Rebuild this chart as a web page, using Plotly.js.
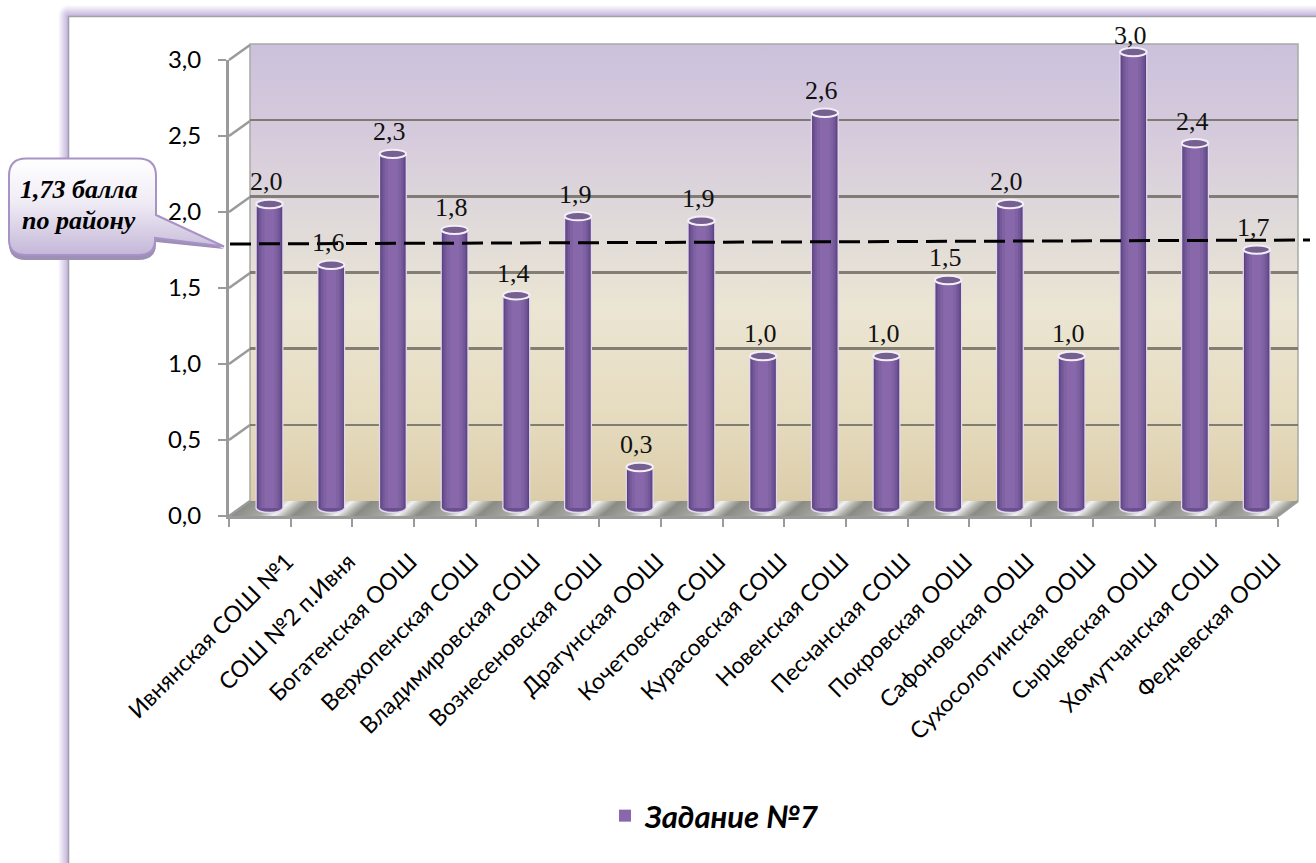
<!DOCTYPE html>
<html><head><meta charset="utf-8">
<script src="https://cdn.plot.ly/plotly-3.0.1.min.js"></script>
<style>html,body{margin:0;padding:0;background:#fff}#c{width:1316px;height:863px}</style>
</head><body><div id="c"></div>
<script>
const schools=["Ивнянская СОШ №1","СОШ №2 п.Ивня","Богатенская ООШ","Верхопенская СОШ","Владимировская СОШ","Вознесеновская СОШ","Драгунская ООШ","Кочетовская СОШ","Курасовская СОШ","Новенская СОШ","Песчанская СОШ","Покровская ООШ","Сафоновская ООШ","Сухосолотинская ООШ","Сырцевская ООШ","Хомутчанская СОШ","Федчевская ООШ"];
const values=[2.0,1.6,2.33,1.83,1.4,1.92,0.27,1.89,1.0,2.6,1.0,1.5,2.0,1.0,3.0,2.4,1.7];
const yTicks=[0,0.5,1,1.5,2,2.5,3];
const seriesName="Задание №7";
const districtMean=[1.737,1.763];
const calloutLines=["1,73 балла","по району"];

const W=1316,H=863;
const px=x=>x/W, py=y=>1-y/H;
const dom=(a,b)=>[a/W,b/W], vdom=(top,bot)=>[1-bot/H,1-top/H];
const SLOT=61.7, UNIT=152;
const BAR0X=269.5, BAR0Y=508;

/* cylinder shading: nested bars, widths in px */
const bands=[[28,"#e3d9ee"],[25.5,"#5b4380"],[23.5,"#684e8e"],[20.5,"#745899"],[16,"#7f62a2"],[10,"#8868aa"]];
const rng=[-0.5,16.5];
const traces=[];
traces.push({type:"scatter",mode:"none",x:schools,y:values,xaxis:"x",yaxis:"y",showlegend:false,hoverinfo:"skip"});
bands.forEach((b,i)=>traces.push({type:"bar",x:schools,y:values,xaxis:"x2",yaxis:"y2",
  width:schools.map(()=>b[0]/SLOT),marker:{color:b[1],line:{width:0}},
  name:seriesName,showlegend:i===bands.length-1,hoverinfo:"skip"}));
traces.push({type:"scatter",mode:"none",x:schools,y:values,xaxis:"x3",yaxis:"y3",showlegend:false,hoverinfo:"skip"});

const shapes=[];
const hw=26.5/SLOT/2, capH=4.2/UNIT;
values.forEach((v,i)=>{
  shapes.push({type:"circle",layer:"below",xref:"x2",yref:"y2",x0:i-hw,x1:i+hw,y0:-capH*1.1,y1:capH*1.1,fillcolor:"#6a5090",line:{color:"#e3d9ee",width:1.5}});
  shapes.push({type:"circle",xref:"x2",yref:"y2",x0:i-hw,x1:i+hw,y0:v-capH,y1:v+capH,fillcolor:"#75608f",line:{color:"#f3eef8",width:2}});
});
/* diagonal tick connectors from front axis to back wall */
yTicks.forEach(t=>{
  const y=60+(3-t)*UNIT;
  shapes.push({type:"line",layer:"below",xref:"paper",yref:"paper",x0:px(229),x1:px(250),y0:py(y),y1:py(y-15),line:{color:"#9a9a9a",width:2.5}});
});
shapes.push({type:"line",xref:"paper",yref:"paper",x0:px(230),x1:px(1310),
  y0:py(BAR0Y-districtMean[0]*UNIT),y1:py(BAR0Y-districtMean[1]*UNIT),line:{color:"#000",width:3,dash:"21px,8px"}});

const annotations=values.map((v,i)=>({xref:"x2",yref:"y2",x:i,y:v,text:v.toFixed(1).replace(".",","),showarrow:false,
  yshift:v>=3?16:22,xshift:-3,font:{family:"Liberation Serif",size:26,color:"#111"}}));
calloutLines.forEach((t,i)=>annotations.push({xref:"paper",yref:"paper",xanchor:"center",yanchor:"middle",x:px(79),y:py(189+i*31),text:t,showarrow:false,
  font:{family:"Liberation Serif",size:26,color:"#000",weight:700,style:"italic"}}));

const bgSvg=`<svg xmlns="http://www.w3.org/2000/svg" width="${W}" height="${H}" viewBox="0 0 ${W} ${H}">
<defs>
<linearGradient id="gl" x1="0" x2="1" y1="0" y2="0"><stop offset="0" stop-color="#fff"/><stop offset="1" stop-color="#c4b4dc"/></linearGradient>
<linearGradient id="gt" x1="0" x2="0" y1="0" y2="1"><stop offset="0" stop-color="#fff"/><stop offset="1" stop-color="#c4b4dc"/></linearGradient>
<radialGradient id="gc" cx="1" cy="1" r="1"><stop offset="0" stop-color="#c4b4dc"/><stop offset="1" stop-color="#fff"/></radialGradient>
<linearGradient id="wall" x1="0" x2="0" y1="0" y2="1">
<stop offset="0" stop-color="#cbc1dc"/><stop offset="0.2" stop-color="#d6cbdc"/><stop offset="0.38" stop-color="#dfd9da"/><stop offset="0.58" stop-color="#ebe5d3"/><stop offset="0.8" stop-color="#e6dcc0"/><stop offset="1" stop-color="#dccdaa"/></linearGradient>
<linearGradient id="floor" gradientUnits="userSpaceOnUse" x1="229" y1="0" x2="290.7" y2="0" spreadMethod="repeat" gradientTransform="skewX(-50)">
<stop offset="0" stop-color="#8b8b85"/><stop offset="0.45" stop-color="#a8a8a4"/><stop offset="0.68" stop-color="#f2f2f2"/><stop offset="0.85" stop-color="#b5b5b0"/><stop offset="1" stop-color="#8b8b85"/></linearGradient>
</defs>
<rect x="58" y="16" width="10" height="${H-16}" fill="url(#gl)"/>
<rect x="68" y="5" width="${W-68}" height="11" fill="url(#gt)"/>
<rect x="58" y="5" width="10" height="11" fill="url(#gc)"/>
<path d="M68.5 ${H}V16.5H${W}" fill="none" stroke="#a3a0a8" stroke-width="1.6"/>
<rect x="250" y="44" width="1048" height="457" fill="url(#wall)"/>
<path d="M250 501V44H1298V501" fill="none" stroke="#a9a9a5" stroke-width="1.5"/>
<path d="M229 516L250 501H1298L1278 516Z" fill="url(#floor)"/>
<path d="M1278 516L1298 501" stroke="#9a9a9a" stroke-width="2.5"/>
</svg>`;
const calloutSvg=`<svg xmlns="http://www.w3.org/2000/svg" width="${W}" height="${H}" viewBox="0 0 ${W} ${H}">
<defs><linearGradient id="cb" gradientUnits="userSpaceOnUse" x1="0" x2="0" y1="158" y2="256"><stop offset="0" stop-color="#fff"/><stop offset="0.45" stop-color="#f0ecf5"/><stop offset="1" stop-color="#c3b6d8"/></linearGradient></defs>
<path d="M26 161H138Q156 161 156 179V218L224 249L156 242V244Q156 260 138 260H26Q9 260 9 244V179Q9 161 26 161Z" fill="#9d8fb5"/>
<path d="M26 158.5H138Q156 158.5 156 176V215L224 246.5L155 238V240Q155 255 138 255H26Q9 255 9 240V176Q9 158.5 26 158.5Z" fill="url(#cb)" stroke="#a893c6" stroke-width="2"/>
</svg>`;
const uri=s=>"data:image/svg+xml;charset=utf-8,"+encodeURIComponent(s);

const wallAxis={showline:false,zeroline:false,showticklabels:false,ticks:""};
const F="Lato, Carlito, 'Open Sans', sans-serif";
const layout={
  width:W,height:H,margin:{l:0,r:0,t:0,b:0,pad:0},paper_bgcolor:"rgba(0,0,0,0)",plot_bgcolor:"rgba(0,0,0,0)",
  separators:", ",barmode:"overlay",hovermode:false,
  images:[
    {source:uri(bgSvg),xref:"paper",yref:"paper",x:0,y:1,sizex:1,sizey:1,sizing:"stretch",xanchor:"left",yanchor:"top",layer:"below"},
    {source:uri(calloutSvg),xref:"paper",yref:"paper",x:0,y:1,sizex:1,sizey:1,sizing:"stretch",xanchor:"left",yanchor:"top",layer:"above"}
  ],
  /* back wall: grid */
  xaxis:Object.assign({},wallAxis,{domain:dom(250,1298),anchor:"y",type:"category",categoryarray:schools,range:rng,showgrid:false}),
  yaxis:Object.assign({},wallAxis,{domain:vdom(44,501),anchor:"x",range:[0,3],tickvals:yTicks,showgrid:true,gridcolor:"rgba(112,108,100,0.85)",gridwidth:2.5}),
  /* bars: middle plane */
  xaxis2:Object.assign({},wallAxis,{domain:dom(BAR0X-SLOT/2,BAR0X-SLOT/2+17*SLOT),anchor:"y2",type:"category",categoryarray:schools,range:rng,showgrid:false}),
  yaxis2:Object.assign({},wallAxis,{domain:vdom(BAR0Y-3.1*UNIT,BAR0Y+0.05*UNIT),anchor:"x2",range:[-0.05,3.1],showgrid:false}),
  /* front plane: axis lines, ticks and labels */
  xaxis3:{domain:dom(229,1278),anchor:"y3",type:"category",categoryarray:schools,range:rng,showgrid:false,zeroline:false,
    showline:true,linecolor:"#9a9a9a",linewidth:3,ticks:"outside",ticklen:8,tickwidth:2,tickcolor:"#9a9a9a",tickson:"boundaries",
    tickangle:-45,ticklabelshift:27,ticklabelstandoff:20,tickfont:{family:F,size:23,color:"#000"},automargin:false},
  yaxis3:{domain:vdom(60,516),anchor:"x3",range:[0,3],tickvals:yTicks,tickformat:".1f",showgrid:false,zeroline:false,
    showline:true,linecolor:"#9a9a9a",linewidth:3,ticks:"outside",ticklen:8,tickwidth:2,tickcolor:"#9a9a9a",
    ticklabelstandoff:12,tickfont:{family:F,size:24,color:"#000"},automargin:false},
  showlegend:true,
  legend:{x:px(605),y:py(816),xanchor:"left",yanchor:"middle",bgcolor:"rgba(0,0,0,0)",font:{family:F,size:31,color:"#000",weight:700,style:"italic"}},
  shapes:shapes,annotations:annotations
};
Plotly.newPlot("c",traces,layout,{staticPlot:true,displayModeBar:false});
</script></body></html>
